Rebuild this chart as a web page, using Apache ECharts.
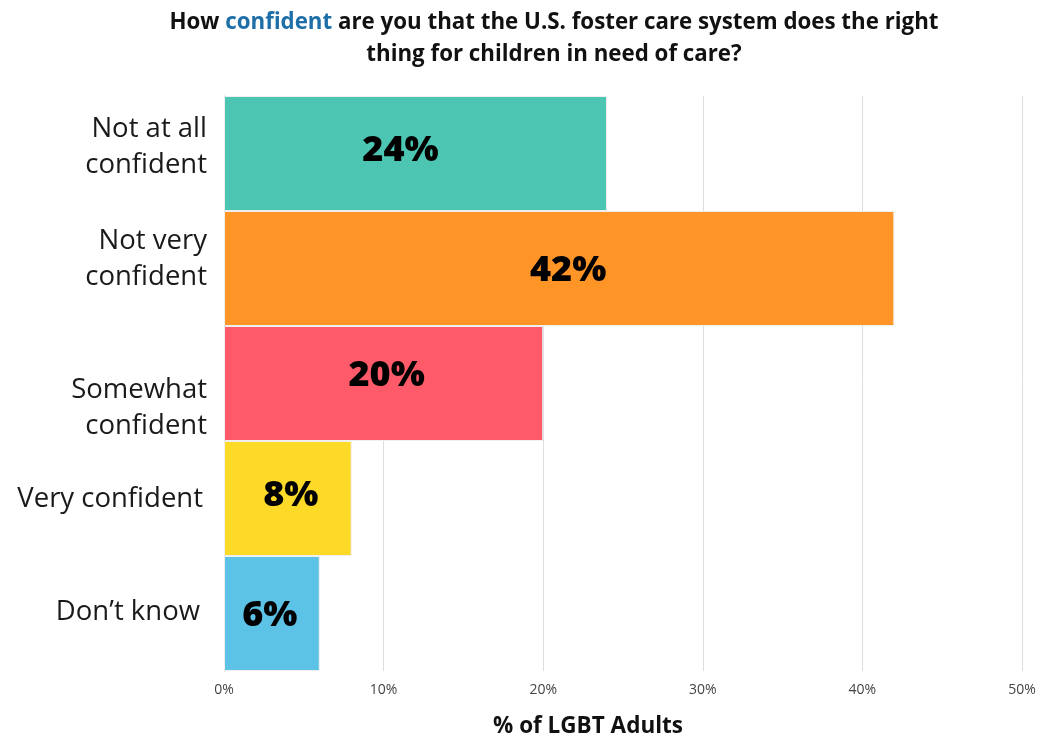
<!DOCTYPE html>
<html>
<head>
<meta charset="utf-8">
<script src="https://cdn.jsdelivr.net/npm/echarts@6/dist/echarts.min.js"></script>
<style>
  html, body { margin: 0; padding: 0; background: #fff; }
  #chart { width: 1041px; height: 736px; }
</style>
</head>
<body>
<div id="chart"></div>
<script>
// Survey answers, top to bottom
const categories = ['Not at all\nconfident', 'Not very\nconfident', 'Somewhat\nconfident', 'Very confident', 'Don\u2019t know'];
const shares = [24, 42, 20, 8, 6];
const barColors = ['#4CC6B2', '#FF9427', '#FF5A69', '#FDDA27', '#5CC2E6'];
const xTicks = [0, 10, 20, 30, 40, 50];

// small per-row nudges for the category and value labels
const catOffsets = [[0, -6.5], [0, -9], [0, 24.5], [-4, 1], [-7, -1]];
const valueOffsets = [[-15, -3], [9, 2], [3, -8], [3, -3], [-2, 2]];

const chart = echarts.init(document.getElementById('chart'));

chart.setOption({
  backgroundColor: '#ffffff',
  animation: false,
  title: [
    {
      text: 'How {hl|confident} are you that the U.S. foster care system does the right\nthing for children in need of care?',
      left: 549,
      top: 2,
      textAlign: 'center',
      textStyle: {
        fontFamily: 'Open Sans',
        fontSize: 22.3,
        fontWeight: 'bold',
        color: '#111',
        lineHeight: 32,
        rich: {
          hl: { fontFamily: 'Open Sans', fontSize: 22.3, fontWeight: 'bold', color: '#1E6FA8', lineHeight: 32 }
        }
      }
    },
    {
      text: '% of LGBT Adults',
      left: 583,
      top: 710,
      textAlign: 'center',
      textStyle: { fontFamily: 'Open Sans', fontSize: 22.5, fontWeight: 'bold', color: '#111' }
    }
  ],
  grid: { left: 224, right: 19, top: 96, bottom: 65 },
  xAxis: {
    type: 'value',
    min: xTicks[0],
    max: xTicks[xTicks.length - 1],
    interval: 10,
    axisLine: { show: false },
    axisTick: { show: false },
    splitLine: { show: true, lineStyle: { color: '#DDDDDD', width: 1 } },
    axisLabel: {
      formatter: v => v + '%',
      fontFamily: 'Open Sans',
      fontSize: 14,
      color: '#444',
      margin: 12
    }
  },
  yAxis: {
    type: 'category',
    inverse: true,
    data: categories,
    axisLine: { show: true, lineStyle: { color: '#CCCCCC', width: 1 } },
    axisTick: { show: false },
    axisLabel: { show: false }
  },
  series: [
    {
      type: 'bar',
      data: shares.map((v, i) => ({
        value: v,
        itemStyle: { color: barColors[i] },
        label: { offset: valueOffsets[i] }
      })),
      barCategoryGap: 0,
      itemStyle: { borderColor: '#EFEFEF', borderWidth: 1 },
      label: {
        show: true,
        position: 'inside',
        formatter: p => p.value + '%',
        fontFamily: 'Open Sans',
        fontSize: 36,
        fontWeight: 800,
        color: '#000'
      },
      z: 2
    },
    {
      // category names, anchored at the zero line of each row
      type: 'scatter',
      symbolSize: 0,
      silent: true,
      itemStyle: { opacity: 1 },
      data: categories.map((c, i) => ({
        value: [0, c],
        label: { offset: catOffsets[i] }
      })),
      label: {
        show: true,
        position: 'left',
        distance: 17,
        formatter: p => p.value[1],
        fontFamily: 'Open Sans',
        fontSize: 27.5,
        lineHeight: 36,
        color: '#1a1a1a',
        opacity: 1,
        align: 'right'
      },
      z: 3
    }
  ]
});
</script>
</body>
</html>
